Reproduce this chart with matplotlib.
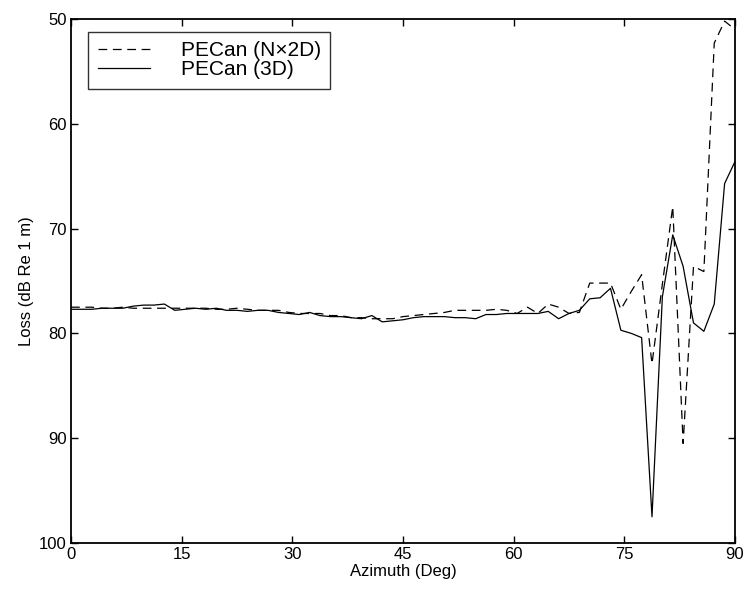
import numpy as np
import matplotlib
matplotlib.use("Agg")
import matplotlib.pyplot as plt

plt.rcParams["font.family"] = ["Liberation Sans", "DejaVu Sans"]

# azimuth sampled every 90/64 deg
azimuth = np.linspace(0, 90, 65)

loss_n2d = [77.5, 77.5, 77.5, 77.6, 77.6, 77.5, 77.6, 77.6, 77.6, 77.6,
            77.6, 77.6, 77.6, 77.6, 77.7, 77.7, 77.6, 77.7, 77.8, 77.8,
            77.8, 78.0, 78.1, 78.1, 78.1, 78.3, 78.3, 78.5, 78.5, 78.6,
            78.6, 78.6, 78.4, 78.3, 78.2, 78.1, 78.0, 77.8, 77.8, 77.8,
            77.8, 77.7, 77.8, 78.1, 77.5, 78.1, 77.2, 77.5, 78.1, 78.0,
            75.2, 75.2, 75.2, 77.7, 76.0, 74.4, 82.9, 75.3, 67.9, 90.5,
            73.6, 74.1, 52.3, 50.2, 51.0]

loss_3d = [77.7, 77.7, 77.7, 77.6, 77.6, 77.6, 77.4, 77.3, 77.3, 77.2,
           77.8, 77.7, 77.6, 77.7, 77.6, 77.8, 77.8, 77.9, 77.8, 77.8,
           78.0, 78.1, 78.2, 78.0, 78.3, 78.4, 78.4, 78.5, 78.6, 78.3,
           78.9, 78.8, 78.7, 78.5, 78.4, 78.4, 78.4, 78.5, 78.5, 78.6,
           78.2, 78.2, 78.1, 78.1, 78.1, 78.1, 77.9, 78.6, 78.1, 77.8,
           76.7, 76.6, 75.7, 79.7, 80.0, 80.4, 97.5, 76.5, 70.6, 73.6,
           79.0, 79.8, 77.2, 65.7, 63.6]

fig = plt.figure(figsize=(7.49, 5.94), dpi=100)
ax = fig.add_axes([0.0948, 0.0859, 0.8865, 0.8821])

ax.plot(azimuth, loss_n2d, color="black", lw=0.9, linestyle=(0, (7, 4.5)),
        label="PECan (N\u00d72D)")
ax.plot(azimuth, loss_3d, color="black", lw=0.9, label="PECan (3D)")

ax.set_xlim(0, 90)
ax.set_ylim(100, 50)
ax.set_xticks([0, 15, 30, 45, 60, 75, 90])
ax.set_yticks([50, 60, 70, 80, 90, 100])
ax.tick_params(direction="in", top=True, right=True, length=5, width=1,
               labelsize=12, pad=3)
for s in ax.spines.values():
    s.set_linewidth(1.3)

ax.set_xlabel("Azimuth (Deg)", fontsize=12, labelpad=1)
ax.set_ylabel("Loss (dB Re 1 m)", fontsize=12, labelpad=4)

leg = ax.legend(loc="upper left", bbox_to_anchor=(0.026, 0.975), fontsize=15,
                frameon=True, fancybox=False, edgecolor="black",
                handlelength=2.5, handletextpad=1.5, labelspacing=0.0,
                borderpad=0.45, borderaxespad=0)
leg.get_frame().set_linewidth(1.0)

fig.savefig("out.png", dpi=100)
